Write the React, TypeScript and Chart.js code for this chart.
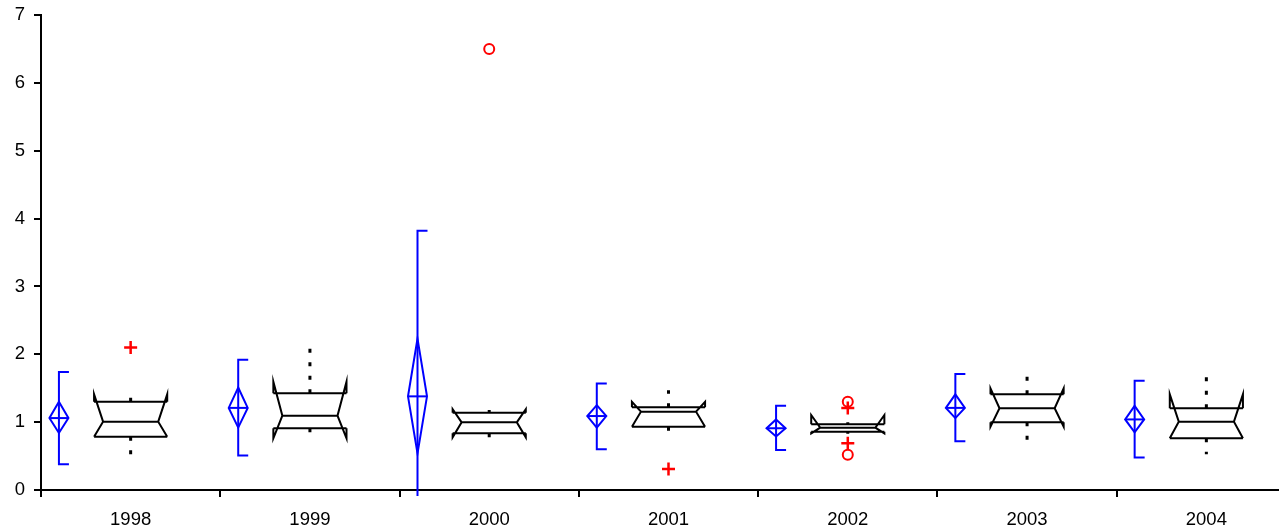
import React, { useEffect, useRef } from "react";
import { Chart, registerables } from "chart.js";

Chart.register(...registerables);

// Years on the category axis
const years = ["1998", "1999", "2000", "2001", "2002", "2003", "2004"];

// Mean with confidence interval (diamond) and ±SD range (bracket)
const meanValues = [1.06, 1.21, 1.38, 1.09, 0.91, 1.21, 1.04];
const meanCiLow = [0.84, 0.92, 0.54, 0.92, 0.79, 1.06, 0.85];
const meanCiHigh = [1.3, 1.51, 2.23, 1.25, 1.04, 1.41, 1.24];
const sdLow = [0.38, 0.51, -1.06, 0.6, 0.59, 0.72, 0.48];
const sdHigh = [1.74, 1.92, 3.82, 1.57, 1.24, 1.71, 1.61];

// Notched box plot statistics
const q1Values = [0.785, 0.91, 0.835, 0.933, 0.859, 0.997, 0.762];
const medianValues = [1.006, 1.095, 0.997, 1.154, 0.918, 1.204, 1.006];
const q3Values = [1.3, 1.425, 1.14, 1.219, 0.968, 1.41, 1.204];
const notchLow = [0.785, 0.762, 0.776, 0.933, 0.835, 0.933, 0.762];
const notchHigh = [1.41, 1.596, 1.19, 1.3, 1.105, 1.498, 1.41];
const whiskerLow = [0.43, 0.72, 0.73, 0.85, 0.83, 0.66, 0.526];
const whiskerHigh = [1.36, 2.09, 1.18, 1.47, 1.0, 1.81, 1.68];

// Outliers: near (+) and far (o)
const nearOutlierYears = ["1998", "2001", "2002", "2002"];
const nearOutlierValues = [2.1, 0.31, 1.21, 0.69];
const farOutlierYears = ["2000", "2002", "2002"];
const farOutlierValues = [6.5, 1.3, 0.52];

const BLUE = "#0000ff";
const RED = "#ff0000";
const BLACK = "#000000";
const FONT = { family: "'Liberation Sans', Arial, sans-serif", size: 18.5 };

const boxPlotPlugin = {
  id: "boxPlot",
  afterDatasetsDraw(chart: any) {
    const { ctx, chartArea, scales } = chart;
    const x = scales.x;
    const y = scales.y;
    const step = x.getPixelForValue(1) - x.getPixelForValue(0);
    const meanOffset = -0.4 * step;
    const boxHalf = 0.204 * step;
    const notchInset = 9;
    const diamondHalf = 9.5;
    const capLen = 10;

    ctx.save();
    ctx.beginPath();
    ctx.rect(
      chartArea.left,
      chartArea.top - 10,
      chartArea.right - chartArea.left,
      chartArea.bottom - chartArea.top + 16
    );
    ctx.clip();
    ctx.lineJoin = "miter";
    ctx.lineCap = "butt";

    years.forEach((_, i) => {
      const cx = x.getPixelForValue(i);

      // mean, CI diamond and SD bracket
      const bx = cx + meanOffset;
      const pMean = y.getPixelForValue(meanValues[i]);
      const pCiLo = y.getPixelForValue(meanCiLow[i]);
      const pCiHi = y.getPixelForValue(meanCiHigh[i]);
      const pSdLo = y.getPixelForValue(sdLow[i]);
      const pSdHi = y.getPixelForValue(sdHigh[i]);
      ctx.strokeStyle = BLUE;
      ctx.lineWidth = 2;
      ctx.setLineDash([]);
      ctx.beginPath();
      ctx.moveTo(bx + capLen, pSdHi);
      ctx.lineTo(bx, pSdHi);
      ctx.lineTo(bx, pSdLo);
      ctx.lineTo(bx + capLen, pSdLo);
      ctx.stroke();
      ctx.beginPath();
      ctx.moveTo(bx, pCiHi);
      ctx.lineTo(bx + diamondHalf, pMean);
      ctx.lineTo(bx, pCiLo);
      ctx.lineTo(bx - diamondHalf, pMean);
      ctx.closePath();
      ctx.stroke();
      ctx.beginPath();
      ctx.moveTo(bx - diamondHalf, pMean);
      ctx.lineTo(bx + diamondHalf, pMean);
      ctx.stroke();

      // dotted whiskers
      const pQ1 = y.getPixelForValue(q1Values[i]);
      const pQ3 = y.getPixelForValue(q3Values[i]);
      const pMed = y.getPixelForValue(medianValues[i]);
      const pNLo = y.getPixelForValue(notchLow[i]);
      const pNHi = y.getPixelForValue(notchHigh[i]);
      const pWLo = y.getPixelForValue(whiskerLow[i]);
      const pWHi = y.getPixelForValue(whiskerHigh[i]);
      ctx.strokeStyle = BLACK;
      ctx.lineWidth = 3;
      ctx.setLineDash([4, 9.5]);
      ctx.beginPath();
      ctx.moveTo(cx, pQ3);
      ctx.lineTo(cx, pWHi);
      ctx.moveTo(cx, pQ1);
      ctx.lineTo(cx, pWLo);
      ctx.stroke();

      // notched box
      ctx.setLineDash([]);
      ctx.lineWidth = 2;
      const xl = cx - boxHalf;
      const xr = cx + boxHalf;
      ctx.beginPath();
      // left notch
      ctx.moveTo(xl, pQ3);
      ctx.lineTo(xl, pNHi);
      ctx.lineTo(xl + notchInset, pMed);
      ctx.lineTo(xl, pNLo);
      ctx.lineTo(xl, pQ1);
      // right notch
      ctx.moveTo(xr, pQ3);
      ctx.lineTo(xr, pNHi);
      ctx.lineTo(xr - notchInset, pMed);
      ctx.lineTo(xr, pNLo);
      ctx.lineTo(xr, pQ1);
      // hinges
      ctx.moveTo(xl, pQ3);
      ctx.lineTo(xr, pQ3);
      ctx.moveTo(xl, pQ1);
      ctx.lineTo(xr, pQ1);
      // median
      ctx.moveTo(xl + notchInset, pMed);
      ctx.lineTo(xr - notchInset, pMed);
      ctx.stroke();
    });
    ctx.restore();
  },
};

export default function App() {
  const canvasRef = useRef<HTMLCanvasElement | null>(null);

  useEffect(() => {
    const canvas = canvasRef.current;
    if (!canvas) return;
    const chart = new Chart(canvas, {
      type: "line",
      data: {
        labels: years,
        datasets: [
          {
            label: "near",
            data: nearOutlierYears.map((yr, i) => ({ x: yr, y: nearOutlierValues[i] })),
            showLine: false,
            pointStyle: "cross",
            pointRadius: 6.5,
            pointBorderWidth: 2.5,
            borderColor: RED,
            backgroundColor: RED,
          },
          {
            label: "far",
            data: farOutlierYears.map((yr, i) => ({ x: yr, y: farOutlierValues[i] })),
            showLine: false,
            pointStyle: "circle",
            pointRadius: 5,
            pointBorderWidth: 2,
            borderColor: RED,
            backgroundColor: "rgba(0,0,0,0)",
          },
        ],
      },
      options: {
        animation: false,
        responsive: false,
        devicePixelRatio: 1,
        layout: { padding: { top: 15, right: 2, left: 0, bottom: 0 } },
        plugins: {
          legend: { display: false },
          tooltip: { enabled: false },
        },
        scales: {
          x: {
            type: "category",
            offset: true,
            grid: {
              offset: true,
              drawOnChartArea: false,
              tickLength: 7,
              color: BLACK,
              lineWidth: 2,
            },
            border: { color: BLACK, width: 2 },
            ticks: { color: BLACK, font: FONT, padding: 12, maxRotation: 0 },
            afterFit: (scale: any) => {
              scale.height = 41;
              scale.paddingLeft = 0;
              scale.paddingRight = 0;
            },
          },
          y: {
            min: 0,
            max: 7,
            grid: {
              drawOnChartArea: false,
              tickLength: 7,
              color: BLACK,
              lineWidth: 2,
            },
            border: { color: BLACK, width: 2 },
            ticks: { stepSize: 1, color: BLACK, font: FONT, padding: 9 },
            afterFit: (scale: any) => {
              scale.width = 41;
              scale.paddingTop = 0;
              scale.paddingBottom = 0;
            },
          },
        },
      },
      plugins: [boxPlotPlugin],
    });
    return () => chart.destroy();
  }, []);

  return (
    <div
      style={{
        position: "fixed",
        left: 0,
        top: 0,
        width: 1279,
        height: 531,
        overflow: "hidden",
        background: "#ffffff",
      }}
    >
      <canvas
        ref={canvasRef}
        width={1305}
        height={531}
        style={{ display: "block", width: 1305, height: 531 }}
      />
    </div>
  );
}
